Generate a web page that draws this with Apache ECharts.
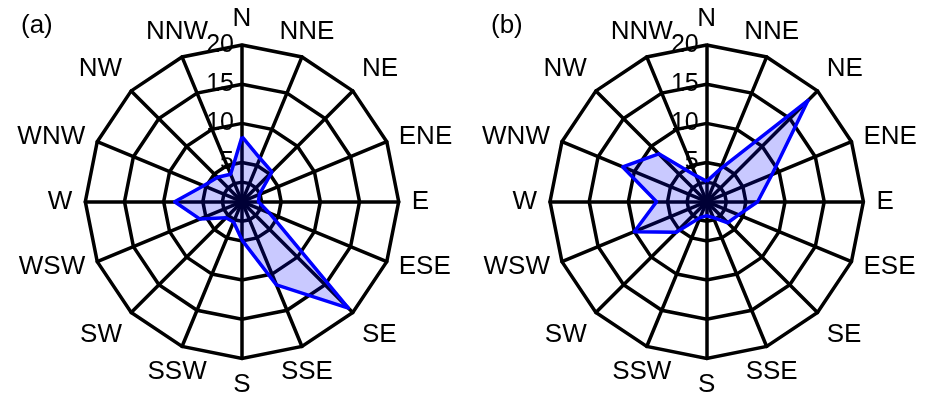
<!DOCTYPE html>
<html>
<head>
<meta charset="utf-8">
<script src="https://cdn.jsdelivr.net/npm/echarts@6/dist/echarts.min.js"></script>
<style>html,body{margin:0;padding:0;background:#fff;}#c{width:925px;height:401px;}</style>
</head>
<body>
<div id="c"></div>
<script>
// Data (compass order, clockwise from North)
const directions = ['N','NNE','NE','ENE','E','ESE','SE','SSE','S','SSW','SW','WSW','W','WNW','NW','NNW'];
const valuesA = [8.3, 6.0, 5.4, 2.4, 2.1, 3.8, 19.2, 11.5, 4.9, 2.8, 2.9, 5.8, 8.6, 5.3, 4.4, 3.8];
const valuesB = [2.6, 4.5, 18.3, 9.0, 6.5, 4.4, 3.8, 2.2, 1.8, 2.2, 5.5, 10.0, 6.4, 11.6, 8.65, 3.6];
const ringTicks = [5, 10, 15, 20];
const innerRing = 2.5;
const panelLabels = ['(a)', '(b)'];

const maxVal = ringTicks[ringTicks.length - 1];
const R = 156.7;
const centers = [[242, 201.7], [706.7, 201.7]];
const FONT = '"Liberation Sans", Arial, sans-serif';
const NAME_SIZE = 26;

// label alignment per compass direction (layout only)
function nameStyleFor(compassIdx) {
  const a = compassIdx * Math.PI / 8;
  const s = Math.sin(a), c = Math.cos(a);
  return {
    align: Math.abs(s) < 0.5 ? 'center' : (s > 0 ? 'left' : 'right'),
    verticalAlign: Math.abs(c) < 0.5 ? 'middle' : (c > 0 ? 'bottom' : 'top')
  };
}

// ECharts places radar indicators counter-clockwise; reorder to get clockwise compass
const order = directions.map((d, i) => (i === 0 ? 0 : directions.length - i));
const ordered = arr => order.map(i => arr[i]);

function mainRadar(center) {
  return {
    center: center,
    radius: R,
    startAngle: 90,
    shape: 'polygon',
    splitNumber: ringTicks.length,
    indicator: order.map((ci, k) => {
      const ind = { name: directions[ci], min: 0, max: maxVal, nameGap: 13, nameTextStyle: nameStyleFor(ci) };
      if (k === 0) ind.axisLabel = { show: true };
      return ind;
    }),
    axisName: { color: '#000', fontSize: NAME_SIZE, fontFamily: FONT },
    nameGap: 13,
    axisLine: { lineStyle: { color: '#000', width: 3.5 } },
    splitLine: { lineStyle: { color: '#000', width: 3.5 } },
    splitArea: { show: false },
    axisTick: { show: false },
    axisLabel: {
      show: false, color: '#000', fontSize: 25, fontFamily: FONT, margin: 8,
      formatter: v => (ringTicks.indexOf(v) >= 0 ? String(v) : '')
    }
  };
}
function innerRadar(center) {
  return {
    center: center,
    radius: R * innerRing / maxVal,
    startAngle: 90,
    shape: 'polygon',
    splitNumber: 1,
    indicator: directions.map(n => ({ name: '', min: 0, max: innerRing })),
    axisName: { show: false },
    axisLine: { show: false },
    splitLine: { lineStyle: { color: '#000', width: 3.5 } },
    splitArea: { show: false },
    axisTick: { show: false },
    axisLabel: { show: false },
    silent: true
  };
}

const seriesStyle = {
  type: 'radar',
  symbol: 'none',
  lineStyle: { color: '#0000ff', width: 3.5 },
  areaStyle: { color: 'rgba(0,0,255,0.3)' },
  z: 5
};

const option = {
  animation: false,
  backgroundColor: '#fff',
  title: panelLabels.map((t, i) => ({
    text: t, left: i === 0 ? 16 : 486, top: 8,
    textStyle: { fontSize: 26, fontWeight: 'normal', color: '#000', fontFamily: FONT }
  })),
  radar: [mainRadar(centers[0]), mainRadar(centers[1]), innerRadar(centers[0]), innerRadar(centers[1])],
  series: [
    Object.assign({}, seriesStyle, { radarIndex: 0, data: [{ value: ordered(valuesA), name: panelLabels[0] }] }),
    Object.assign({}, seriesStyle, { radarIndex: 1, data: [{ value: ordered(valuesB), name: panelLabels[1] }] })
  ]
};

const chart = echarts.init(document.getElementById('c'), null, { renderer: 'canvas' });
chart.setOption(option);
</script>
</body>
</html>
